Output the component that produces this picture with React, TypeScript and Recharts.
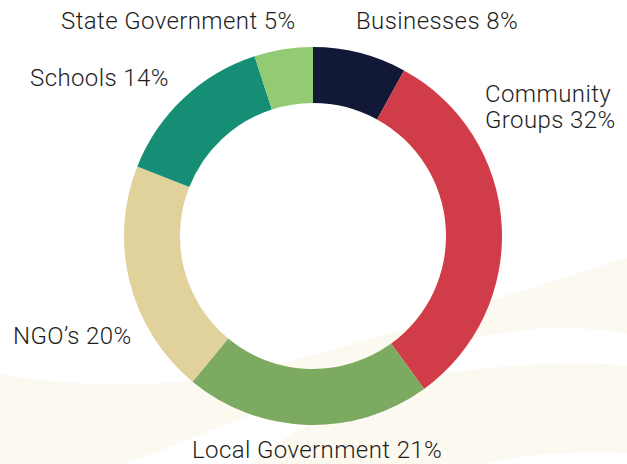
import { PieChart, Pie, Cell } from 'recharts';

// funding share by source, percent
const sources = ['Businesses', 'Community Groups', 'Local Government', "NGO\u2019s", 'Schools', 'State Government'];
const shares = [8, 32, 21, 20, 14, 5];
const colors = ['#111936', '#D03D48', '#7BAA60', '#E1D29C', '#168E75', '#93CA74'];

// label placement relative to the pie centre (baseline of first line)
const labelLayout = [
  { dx: 43, dy: -207, lines: 1 },
  { dx: 172, dy: -134, lines: 2 },
  { dx: -121, dy: 222, lines: 1 },
  { dx: -300, dy: 108, lines: 1 },
  { dx: -283, dy: -150, lines: 1 },
  { dx: -252, dy: -207, lines: 1 },
];

const data = sources.map((name, i) => ({ name, value: shares[i] }));

function renderLabel(props: any) {
  const { cx, cy, index, name, value } = props;
  const pos = labelLayout[index];
  const x = cx + pos.dx;
  const y = cy + pos.dy;
  const style = {
    fontFamily: 'Roboto, sans-serif',
    fontSize: 24,
    fontWeight: 300,
    letterSpacing: 0.4,
    fill: '#1e1e1e',
  };
  if (pos.lines === 2) {
    const words = String(name).split(' ');
    return (
      <text x={x} y={y} textAnchor="start" style={style}>
        <tspan x={x} y={y}>{words[0]}</tspan>
        <tspan x={x} y={y + 26}>{words.slice(1).join(' ')} {value}%</tspan>
      </text>
    );
  }
  return (
    <text x={x} y={y} textAnchor="start" style={style}>
      {name} {value}%
    </text>
  );
}

function Waves() {
  return (
    <svg width={627} height={464} style={{ position: 'absolute', left: 0, top: 0 }}>
      <path
        d="M0,374 Q100,392 210,379 Q350,350 483,303 L627,258 L627,334 Q560,320 480,337 Q330,380 210,431 L125,464 L0,464 Z"
        fill="#FCF9F1"
      />
      <path
        d="M627,366 Q560,358 440,374 Q330,400 250,464 L485,464 Q540,450 627,453 Z"
        fill="#FCF9F1"
      />
    </svg>
  );
}

export default function App() {
  return (
    <div style={{ position: 'absolute', left: 0, top: 0, width: 627, height: 464, background: '#ffffff' }}>
      <Waves />
      <div style={{ position: 'absolute', left: 0, top: 0 }}>
        <PieChart width={627} height={464} margin={{ top: 0, right: 0, bottom: 0, left: 0 }}>
          <Pie
            data={data}
            dataKey="value"
            nameKey="name"
            cx={313}
            cy={236}
            innerRadius={133}
            outerRadius={189}
            startAngle={90}
            endAngle={-270}
            stroke="none"
            label={renderLabel}
            labelLine={false}
            isAnimationActive={false}
          >
            {data.map((d, i) => (
              <Cell key={d.name} fill={colors[i]} />
            ))}
          </Pie>
        </PieChart>
      </div>
    </div>
  );
}
